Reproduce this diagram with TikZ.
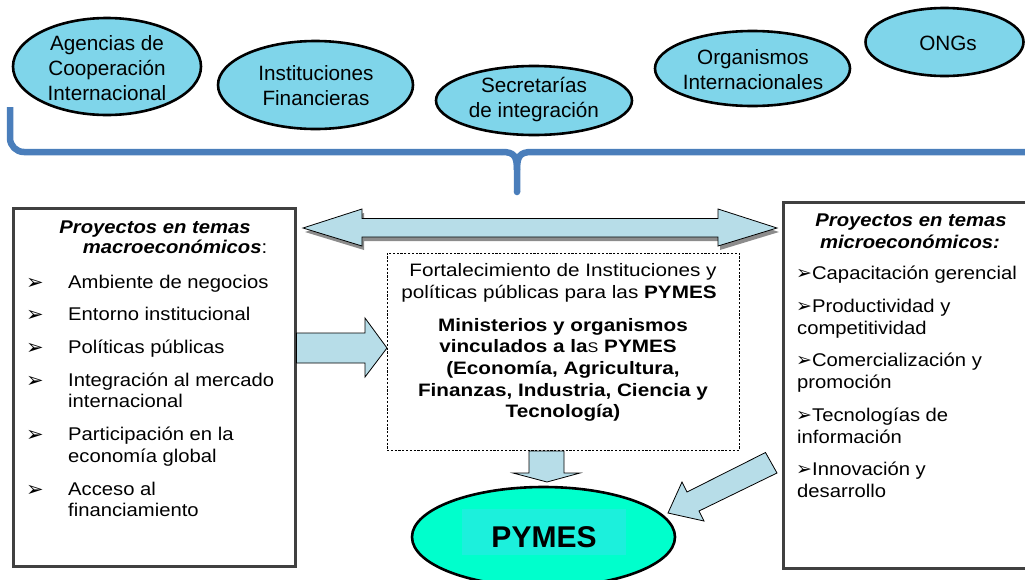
\documentclass[tikz,border=0pt]{standalone}
\usepackage{fontspec}
\setmainfont{Liberation Sans}
\newfontfamily\boxfont{Liberation Sans}[FakeStretch=1.1]
\newfontfamily\ctrfont{Liberation Sans}[FakeStretch=1.15]
\newfontfamily\bulfont{DejaVu Sans}
\usetikzlibrary{shapes.geometric}
\definecolor{ellfill}{RGB}{127,213,234}
\definecolor{bracecol}{RGB}{74,126,187}
\definecolor{arrfill}{RGB}{183,221,232}
\definecolor{arrshadow}{RGB}{140,140,140}
\definecolor{pymesfill}{RGB}{0,255,204}
\definecolor{pymesin}{RGB}{28,240,220}
\definecolor{boxline}{RGB}{64,64,64}
\newcommand{\arrbul}{{\bulfont\fontsize{19}{19}\selectfont ➢}}
\begin{document}
\begin{tikzpicture}[x=1pt,y=-1pt,
  orgshape/.style={ellipse, draw=black, line width=2.6pt, fill=ellfill, inner sep=0pt},
  orgtext/.style={inner sep=0pt, align=center, font=\fontsize{20.7}{25}\selectfont},
  panel/.style={draw=boxline, line width=3pt, fill=white, inner sep=0pt},
  ltxt/.style={anchor=base west, inner sep=0pt, font=\boxfont\fontsize{18.4}{21}\selectfont},
  ttl/.style={anchor=base, inner sep=0pt, font=\boxfont\fontsize{18.4}{21}\selectfont\bfseries\itshape},
  ctxt/.style={anchor=base, inner sep=0pt, font=\ctrfont\fontsize{18}{21}\selectfont},
  bul/.style={anchor=base west, inner sep=0pt, font=\bulfont\fontsize{21}{21}\selectfont},
  blockarrow/.style={draw=black, line width=0.8pt, fill=arrfill, line join=miter},
  brace/.style={draw=bracecol, line width=6.5pt},
]
\useasboundingbox (0,0) rectangle (1025,579);

% top organisations
\node[orgshape, minimum width=188, minimum height=97] (ag) at (107,66.5) {};
\node[orgtext] (agt) at (107,68) {Agencias de\\Cooperación\\Internacional};
\node[orgshape, minimum width=195, minimum height=88] (inst) at (315.5,85) {};
\node[orgtext] (instt) at (316,86) {Instituciones\\Financieras};
\node[orgshape, minimum width=196, minimum height=69] (sec) at (534,100.5) {};
\node[orgtext] (sect) at (534,100) {Secretarías\\de integración};
\node[orgshape, minimum width=195, minimum height=75] (orgi) at (752.5,68.5) {};
\node[orgtext] (orgit) at (753,70) {Organismos\\Internacionales};
\node[orgshape, minimum width=158, minimum height=68] (ong) at (944.5,42) {};
\node[orgtext] (ongt) at (948,43) {ONGs};

% brace
\draw[brace, rounded corners=14] (10,107) -- (10,152) -- (502,152);
\draw[brace, line join=round] (502,152) .. controls (514,152) and (517,156) .. (517,170) -- (517,192);
\draw[brace, line join=round] (517,170) .. controls (517,156) and (520,152) .. (532,152) -- (1035,152);
\fill[bracecol] (517,192) circle (3.25);

% panels
\node[panel, minimum width=282, minimum height=358] (left) at (154,387) {};
\node[panel, minimum width=257, minimum height=366] (right) at (911.5,385) {};
\node[draw=black, dash pattern=on 2.2pt off 1.6pt, line width=0.8pt, fill=white, inner sep=0pt,
      minimum width=352, minimum height=197] (ctr) at (563,351.5) {};

% double arrow with shadow
\fill[arrshadow] ([shift={(2,4)}]303,228) -- ([shift={(2,4)}]362,209) -- ([shift={(2,4)}]362,218.5) -- ([shift={(2,4)}]718,218.5)
  -- ([shift={(2,4)}]718,209) -- ([shift={(2,4)}]777,228) -- ([shift={(2,4)}]718,246) -- ([shift={(2,4)}]718,237)
  -- ([shift={(2,4)}]362,237) -- ([shift={(2,4)}]362,246) -- cycle;
\path[blockarrow] (303,228) -- (362,209) -- (362,218.5) -- (718,218.5) -- (718,209) -- (777,228)
  -- (718,246) -- (718,237) -- (362,237) -- (362,246) -- cycle;

% left box -> centre arrow
\path[blockarrow] (296.5,333) -- (365,333) -- (365,318) -- (387,348) -- (365,377) -- (365,363) -- (296.5,363) -- cycle;
% centre -> PYMES arrow
\path[blockarrow] (529,451) -- (564,451) -- (564,473) -- (580,473) -- (547,482) -- (513,473) -- (529,473) -- cycle;

% PYMES
\node[ellipse, draw=black, line width=2.6pt, fill=pymesfill, inner sep=0pt, minimum width=263, minimum height=100] (pymes) at (543.5,537) {};
\fill[pymesin] (462,509) rectangle (626,555);
\node[inner sep=0pt, font=\fontsize{30}{30}\selectfont\bfseries] (pymest) at (544,537) {PYMES};

% right box -> PYMES arrow
\path[blockarrow] (765.5,452.5) -- (687,492) -- (682,482) -- (668,513) -- (704,521) -- (699,511) -- (777,473) -- cycle;

% left box texts
\node[ttl] (lt1) at (155,233) {Proyectos en temas};
\node[ttl] (lt2) at (175,253) {macroeconómicos{\mdseries\upshape :}};
\node[bul] (lb1) at (26,289) {➢};
\node[ltxt] (l1) at (68,288) {Ambiente de negocios};
\node[bul] (lb2) at (26,321) {➢};
\node[ltxt] (l2) at (68,320) {Entorno institucional};
\node[bul] (lb3) at (26,354) {➢};
\node[ltxt] (l3) at (68,353) {Políticas públicas};
\node[bul] (lb4) at (26,387) {➢};
\node[ltxt] (l4) at (68,386) {Integración al mercado};
\node[ltxt] (l4b) at (68,407) {internacional};
\node[bul] (lb5) at (26,441) {➢};
\node[ltxt] (l5) at (68,440) {Participación en la};
\node[ltxt] (l5b) at (68,462) {economía global};
\node[bul] (lb6) at (26,496) {➢};
\node[ltxt] (l6) at (68,495) {Acceso al};
\node[ltxt] (l6b) at (68,516) {financiamiento};

% right box texts
\node[ttl] (rt1) at (911,226) {Proyectos en temas};
\node[ttl] (rt2) at (910,248) {microeconómicos:};
\node[ltxt] (r1) at (796,279) {\arrbul Capacitación gerencial};
\node[ltxt] (r2) at (796,312) {\arrbul Productividad y};
\node[ltxt] (r2b) at (797,334) {competitividad};
\node[ltxt] (r3) at (796,366) {\arrbul Comercialización y};
\node[ltxt] (r3b) at (797,388) {promoción};
\node[ltxt] (r4) at (796,421) {\arrbul Tecnologías de};
\node[ltxt] (r4b) at (797,443) {información};
\node[ltxt] (r5) at (796,475) {\arrbul Innovación y};
\node[ltxt] (r5b) at (797,497) {desarrollo};

% centre texts
\node[ctxt] (c1) at (563,276) {Fortalecimiento de Instituciones y};
\node[ctxt] (c2) at (559,298) {políticas públicas para las \textbf{PYMES}};
\node[ctxt, font=\ctrfont\fontsize{18}{21}\selectfont\bfseries] (c3) at (563,331) {Ministerios y organismos};
\node[ctxt, font=\ctrfont\fontsize{18}{21}\selectfont\bfseries] (c4) at (558,352) {vinculados a la{\mdseries\fontsize{14}{14}\selectfont S} PYMES};
\node[ctxt, font=\ctrfont\fontsize{18}{21}\selectfont\bfseries] (c5) at (563,374) {(Economía, Agricultura,};
\node[ctxt, font=\ctrfont\fontsize{18}{21}\selectfont\bfseries] (c6) at (563,396) {Finanzas, Industria, Ciencia y};
\node[ctxt, font=\ctrfont\fontsize{18}{21}\selectfont\bfseries] (c7) at (563,417) {Tecnología)};
\end{tikzpicture}
\end{document}
